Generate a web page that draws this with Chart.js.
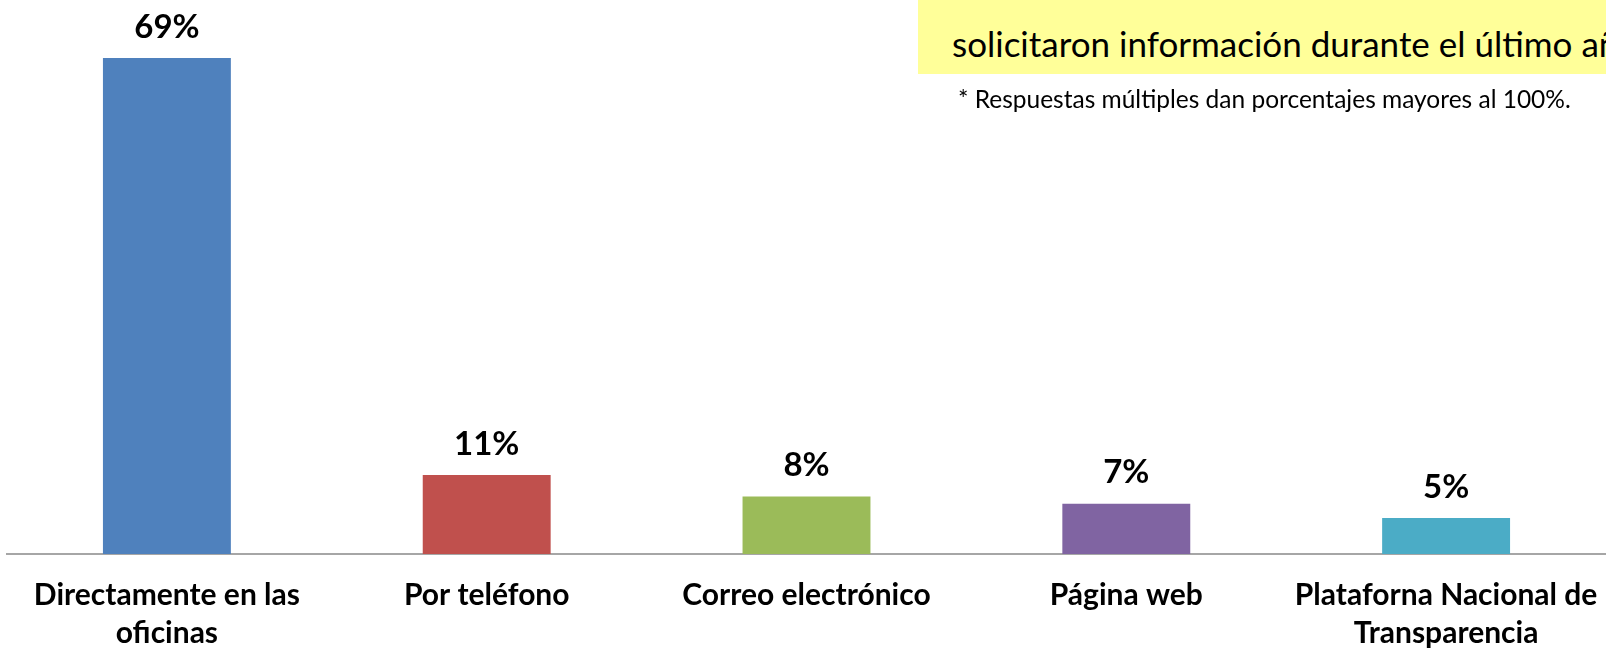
<!DOCTYPE html>
<html>
<head>
<meta charset="utf-8">
<script src="https://cdn.jsdelivr.net/npm/chart.js@4"></script>
<style>
  html, body { margin: 0; padding: 0; background: #fff; }
  #wrap { position: relative; width: 1606px; height: 648px; overflow: hidden; }
  #note {
    position: absolute; left: 918px; top: 0; width: 700px; height: 74px;
    background: #FFFF99; font-family: Lato, sans-serif; font-size: 35px; color: #000;
  }
  #note span { position: absolute; left: 34px; top: 22px; white-space: nowrap; }
  #foot {
    position: absolute; left: 958px; top: 84px; white-space: nowrap;
    font-family: Lato, sans-serif; font-size: 24.5px; color: #000;
  }
</style>
</head>
<body>
<div id="wrap">
  <canvas id="chart" width="1606" height="648"></canvas>
  <div id="note"><span>solicitaron información durante el último año</span></div>
  <div id="foot">* Respuestas múltiples dan porcentajes mayores al 100%.</div>
</div>
<script>
const categories = [
    ["Directamente en las", "oficinas"],
    "Por teléfono",
    "Correo electrónico",
    "Página web",
    ["Plataforna Nacional de", "Transparencia"]
];
const values = [69, 11, 8, 7, 5];
const barColors = ["#4F81BD", "#C0504D", "#9BBB59", "#8064A2", "#4BACC6"];

// draws the "69%" style labels above each bar
const valueLabels = {
    id: "valueLabels",
    afterDatasetsDraw(chart) {
        const ctx = chart.ctx;
        const meta = chart.getDatasetMeta(0);
        ctx.save();
        ctx.font = "bold 33px Lato, sans-serif";
        ctx.fillStyle = "#000";
        ctx.textAlign = "center";
        ctx.textBaseline = "middle";
        meta.data.forEach((bar, i) => {
            ctx.fillText(values[i] + "%", bar.x, bar.y - 31);
        });
        ctx.restore();
    }
};

new Chart(document.getElementById("chart"), {
    type: "bar",
    data: {
        labels: categories,
        datasets: [{
            data: values,
            backgroundColor: barColors,
            categoryPercentage: 1,
            barPercentage: 0.4
        }]
    },
    options: {
        responsive: false,
        animation: false,
        layout: { padding: { left: 7, right: 0, top: 15, bottom: 0 } },
        plugins: { legend: { display: false }, tooltip: { enabled: false } },
        scales: {
            x: {
                grid: { display: false, drawTicks: false },
                border: { display: true, color: "#A6A6A6", width: 2 },
                ticks: {
                    color: "#000",
                    padding: 22,
                    font: { family: "Lato, sans-serif", size: 30, weight: "bold", lineHeight: 1.27 },
                    maxRotation: 0,
                    autoSkip: false
                },
                afterFit(scale) {
                    scale.height = 94;
                    // let the last label run to the edge like the original
                    scale.paddingLeft = 0;
                    scale.paddingRight = 0;
                }
            },
            y: {
                display: false,
                min: 0,
                max: 75
            }
        }
    },
    plugins: [valueLabels]
});
</script>
</body>
</html>
